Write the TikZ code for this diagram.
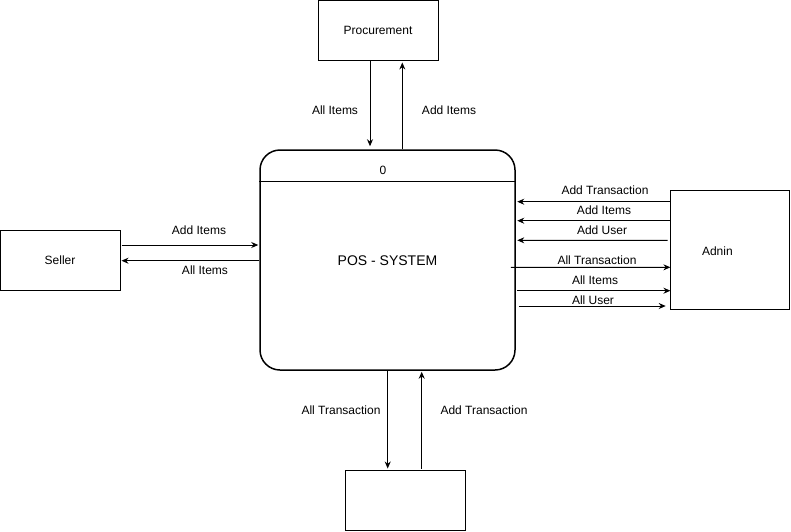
\documentclass[tikz,border=0pt]{standalone}
\usepackage{fontspec}
\setmainfont{Liberation Sans}
\usetikzlibrary{positioning,calc,arrows.meta}

\tikzset{
  entity/.style={draw, line width=1pt, minimum width=120pt, minimum height=60pt, inner sep=0pt,
    text height=8.6pt, text depth=0pt, font=\fontsize{12}{14}\selectfont},
  process/.style={draw, line width=1.5pt, rounded corners=20pt, minimum width=255pt,
    minimum height=220pt, inner sep=0pt, text height=10pt, text depth=0pt, font=\fontsize{14}{16}\selectfont},
  lbl/.style={inner sep=0pt, text height=8.6pt, text depth=0pt, font=\fontsize{12}{14}\selectfont},
  flow/.style={line width=0.9pt, -{Stealth[length=7pt,width=6pt]}}
}

\begin{document}
\begin{tikzpicture}[x=1pt,y=-1pt]
	\useasboundingbox (0,0) rectangle (791,531);

	% entities and the process
	\node[entity] (procure) at (378,30) {Procurement};
	\node[process] (pos) at (387.5,260) {POS - SYSTEM};
	\node[entity] (seller) at (60,260) {Seller};
	\node[entity, minimum width=119pt, minimum height=119pt,
		label={[lbl,xshift=-13pt,yshift=-0.6pt]center:Adnin}] (admin) at (730.4,250.4) {};
	\node[entity] (store) at (405.3,500) {};

	% process header
	\draw[line width=1pt] ($(pos.west)+(0,-79)$) -- ($(pos.east)+(0,-79)$);
	\node[lbl] (pid) at (383,170) {0};

	% procurement flows
	\draw[flow] ($(procure.south)+(-8,0)$) -- ($(pos.north)+(-17.5,-3)$);
	\draw[flow] ($(pos.north)+(14.8,0)$) -- ($(procure.south)+(24.3,2)$);
	\node[lbl] (l1) at (335,110) {All Items};
	\node[lbl] (l2) at (449,110) {Add Items};

	% seller flows
	\draw[flow] ($(seller.east)+(1,-15)$) -- ($(pos.west)+(-1,-15)$);
	\draw[flow] ($(pos.west)+(0,0.7)$) -- ($(seller.east)+(1,0.7)$);
	\node[lbl] (l3) at (199,230) {Add Items};
	\node[lbl] (l4) at (205,270) {All Items};

	% admin flows
	\draw[flow] ($(admin.west)+(0,-48.7)$) -- ($(pos.east)+(1.5,-58.3)$);
	\draw[flow] ($(admin.west)+(0,-29.7)$) -- ($(pos.east)+(1.5,-39.3)$);
	\draw[flow] ($(admin.west)+(-2.7,-10.1)$) -- ($(pos.east)+(1.5,-19.7)$);
	\draw[flow] ($(pos.east)+(-5,7.3)$) -- ($(admin.west)+(0,16.9)$);
	\draw[flow] ($(pos.east)+(1,30.7)$) -- ($(admin.west)+(0,40.3)$);
	\draw[flow] ($(pos.east)+(3,46)$) -- ($(admin.west)+(-4.7,55.6)$);
	\node[lbl] (l5) at (605,190) {Add Transaction};
	\node[lbl] (l6) at (604,210) {Add Items};
	\node[lbl] (l7) at (602,230) {Add User};
	\node[lbl] (l8) at (597,260) {All Transaction};
	\node[lbl] (l9) at (595,280) {All Items};
	\node[lbl] (l10) at (593,300) {All User};

	% store flows
	\draw[flow] ($(pos.south)+(0.2,0)$) -- ($(store.north)+(-17.6,-1)$);
	\draw[flow] ($(store.north)+(16.4,-1)$) -- ($(pos.south)+(34.2,1)$);
	\node[lbl] (l11) at (341,410) {All Transaction};
	\node[lbl] (l12) at (484,410) {Add Transaction};
\end{tikzpicture}
\end{document}
